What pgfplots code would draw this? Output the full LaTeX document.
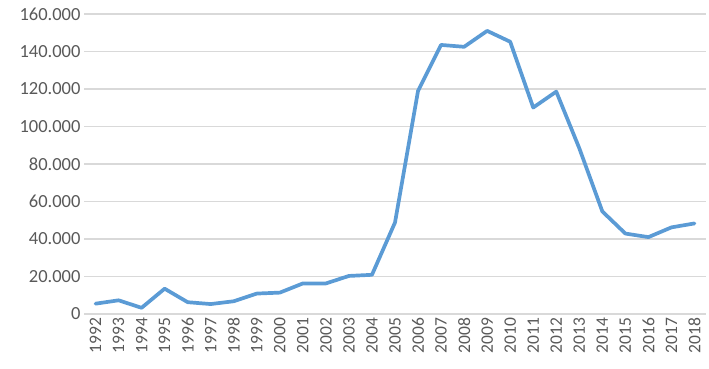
\documentclass[border=0pt]{standalone}
\usepackage{pgfplots}
\pgfplotsset{compat=1.18}
\usepackage{fontspec}
\setmainfont{Carlito}
\definecolor{lineblue}{HTML}{5B9BD5}
\definecolor{gridgray}{HTML}{D9D9D9}
\definecolor{labelgray}{HTML}{595959}
\begin{document}
\begin{tikzpicture}
\useasboundingbox (0,0) rectangle (709pt,369pt);
\begin{axis}[
  at={(84pt,55pt)}, anchor=south west,
  scale only axis, width=622pt, height=300pt,
  xmin=1991.5, xmax=2018.5, ymin=0, ymax=160000,
  xtick={1992,1993,1994,1995,1996,1997,1998,1999,2000,2001,2002,2003,2004,2005,2006,2007,2008,2009,2010,2011,2012,2013,2014,2015,2016,2017,2018},
  xticklabels={1992,1993,1994,1995,1996,1997,1998,1999,2000,2001,2002,2003,2004,2005,2006,2007,2008,2009,2010,2011,2012,2013,2014,2015,2016,2017,2018},
  xticklabel style={rotate=90, anchor=east, font=\fontsize{17.5}{19}\selectfont, text=labelgray},
  ytick={0,20000,40000,60000,80000,100000,120000,140000,160000},
  yticklabels={0,20.000,40.000,60.000,80.000,100.000,120.000,140.000,160.000},
  yticklabel style={font=\fontsize{18.5}{20}\selectfont, text=labelgray},
  scaled y ticks=false,
  ymajorgrids, grid style={gridgray, line width=1.1pt},
  axis line style={draw=none},
  major tick length=0pt,
  xtick pos=bottom, ytick pos=left,
  clip=false,
]
\addplot[lineblue, line width=3.7pt, line join=round, line cap=round] coordinates {
(1992,5500) (1993,7300) (1994,3300) (1995,13500) (1996,6300) (1997,5300)
(1998,6800) (1999,10900) (2000,11400) (2001,16300) (2002,16300) (2003,20300)
(2004,20900) (2005,48800) (2006,119000) (2007,143500) (2008,142500)
(2009,151000) (2010,145200) (2011,110100) (2012,118600) (2013,88400)
(2014,54700) (2015,42900) (2016,41000) (2017,46200) (2018,48300)
};
\end{axis}
\end{tikzpicture}
\end{document}
